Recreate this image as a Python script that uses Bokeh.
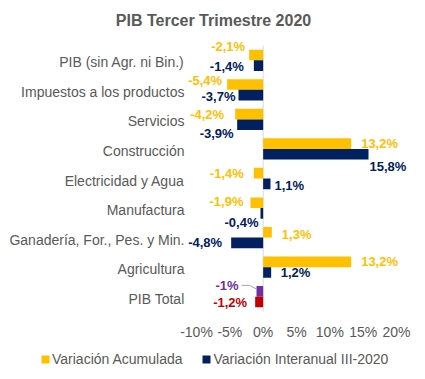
from bokeh.plotting import figure
from bokeh.models import (ColumnDataSource, Range1d, LabelSet, Label, Legend, LegendItem)
from bokeh.core.properties import value
from bokeh.embed import file_html
from bokeh.resources import INLINE

title_text = "PIB Tercer Trimestre 2020"
categories = ["PIB (sin Agr. ni Bin.)", "Impuestos a los productos", "Servicios",
              "Construcción", "Electricidad y Agua", "Manufactura",
              "Ganadería, For., Pes. y Min.", "Agricultura", "PIB Total"]
acumulada = [-2.1, -5.4, -4.2, 13.2, -1.4, -1.9, 1.3, 13.2, -1.0]
interanual = [-1.4, -3.7, -3.9, 15.8, 1.1, -0.4, -4.8, 1.2, -1.2]
series_names = ["Variación Acumulada", "Variación Interanual III-2020"]
x_ticks = [-10, -5, 0, 5, 10, 15, 20]
x_tick_labels = ["-10%", "-5%", "0%", "5%", "10%", "15%", "20%"]

# label layout in pixels: gap from the bar end, vertical shift (down positive)
acum_gap = [4, 5, 11, 10, 10, 7, 10, 10, 18]
acum_shift = [-8.5, -4.5, 0, 0, 0, -1, 2, 0, -6]
inter_gap = [10, 3, 3.5, 1, 4, 2, 9, 9.5, 8]
inter_shift = [1, 1, 9, 12.5, 1.5, 9, 0, 0, 0]

YELLOW = "#FFC000"
NAVY = "#002060"
PURPLE = "#7030A0"
RED = "#C00000"
GRAY = "#595959"
FONT = "Liberation Sans"

n = len(categories)
ypos = [n - 1 - i for i in range(n)]
BAR_H = 0.36
DODGE = 0.18

W, H = 425, 379
AX_L, AX_R = 196, 396          # pixel x of first / last tick
BAND_TOP, BAND_BOT = 45, 311   # pixel y of the category area
px_x = (x_ticks[-1] - x_ticks[0]) / (AX_R - AX_L)
px_y = n / (BAND_BOT - BAND_TOP)
x_start = x_ticks[0] - AX_L * px_x
x_end = x_start + W * px_x
y_end = (n - 0.5) + BAND_TOP * px_y
y_start = y_end - H * px_y


def fmt(v):
    if float(v).is_integer():
        return "%d%%" % int(v)
    return ("%.1f%%" % v).replace(".", ",")


acum_colors = [YELLOW] * (n - 1) + [PURPLE]
inter_colors = [NAVY] * (n - 1) + [RED]

src_a = ColumnDataSource(dict(
    y=[y + DODGE for y in ypos], v=acumulada, c=acum_colors,
    t=[fmt(v) for v in acumulada],
    xo=[(g if v >= 0 else -g) for v, g in zip(acumulada, acum_gap)],
    yo=[-s for s in acum_shift],
    al=["left" if v >= 0 else "right" for v in acumulada],
))
src_i = ColumnDataSource(dict(
    y=[y - DODGE for y in ypos], v=interanual, c=inter_colors,
    t=[fmt(v) for v in interanual],
    xo=[(g if v >= 0 else -g) for v, g in zip(interanual, inter_gap)],
    yo=[-s for s in inter_shift],
    al=["left" if v >= 0 else "right" for v in interanual],
))

p = figure(width=W, height=H, output_backend="svg", toolbar_location=None,
           x_range=Range1d(x_start, x_end), y_range=Range1d(y_start, y_end),
           x_axis_location=None, y_axis_location=None,
           min_border_left=0, min_border_right=0, min_border_top=0, min_border_bottom=0)
p.outline_line_color = None
p.xgrid.visible = False
p.ygrid.visible = False

# title
p.add_layout(Label(x=213, y=H - 20, x_units="screen", y_units="screen", text=title_text,
                   text_align="center", text_baseline="middle", text_font=FONT,
                   text_font_size="16px", text_font_style="bold", text_color=GRAY))

# vertical axis line at 0
p.segment(x0=[0], y0=[-0.5], x1=[0], y1=[n - 0.5], line_color="#D9D9D9", line_width=1)

# category labels (left axis)
p.text(x=[x_ticks[0]] * n, y=ypos, text=categories, x_offset=-12, y_offset=2,
       text_align="right", text_baseline="middle", text_font=value(FONT),
       text_font_size="14px", text_color=GRAY)

# value axis tick labels
p.text(x=x_ticks, y=[-0.5] * len(x_ticks), text=x_tick_labels, y_offset=20,
       text_align="center", text_baseline="middle", text_font=value(FONT),
       text_font_size="14px", text_color=GRAY)

ra = p.hbar(y="y", left=0, right="v", height=BAR_H, fill_color="c", line_color=None, source=src_a)
ri = p.hbar(y="y", left=0, right="v", height=BAR_H, fill_color="c", line_color=None, source=src_i)

for src in (src_a, src_i):
    p.add_layout(LabelSet(x="v", y="y", text="t", source=src, x_offset="xo", y_offset="yo",
                          text_align="al", text_baseline="middle", text_color="c",
                          text_font=value(FONT), text_font_size="13px",
                          text_font_style="bold"))

# leader line for the PIB Total accumulated label
k = n - 1
v = acumulada[k]
yl = ypos[k] + DODGE - acum_shift[k] * px_y
x0 = v - (acum_gap[k] - 3) * px_x
x1 = x0 + 8 * px_x
p.line(x=[x0, x1, v], y=[yl, yl, ypos[k] + DODGE + BAR_H / 2 - 3 * px_y],
       line_color="#A6A6A6", line_width=1)

legend = Legend(items=[LegendItem(label=series_names[0], renderers=[ra], index=0),
                       LegendItem(label=series_names[1], renderers=[ri], index=0)],
                location=(40, H - 367), orientation="horizontal",
                glyph_width=10, glyph_height=10, label_standoff=2, spacing=19,
                label_height=16, padding=0, margin=0, border_line_color=None,
                background_fill_alpha=0,
                label_text_font=FONT, label_text_font_size="14px", label_text_color=GRAY)
p.add_layout(legend)

open("out.html", "w").write(file_html(p, INLINE))
